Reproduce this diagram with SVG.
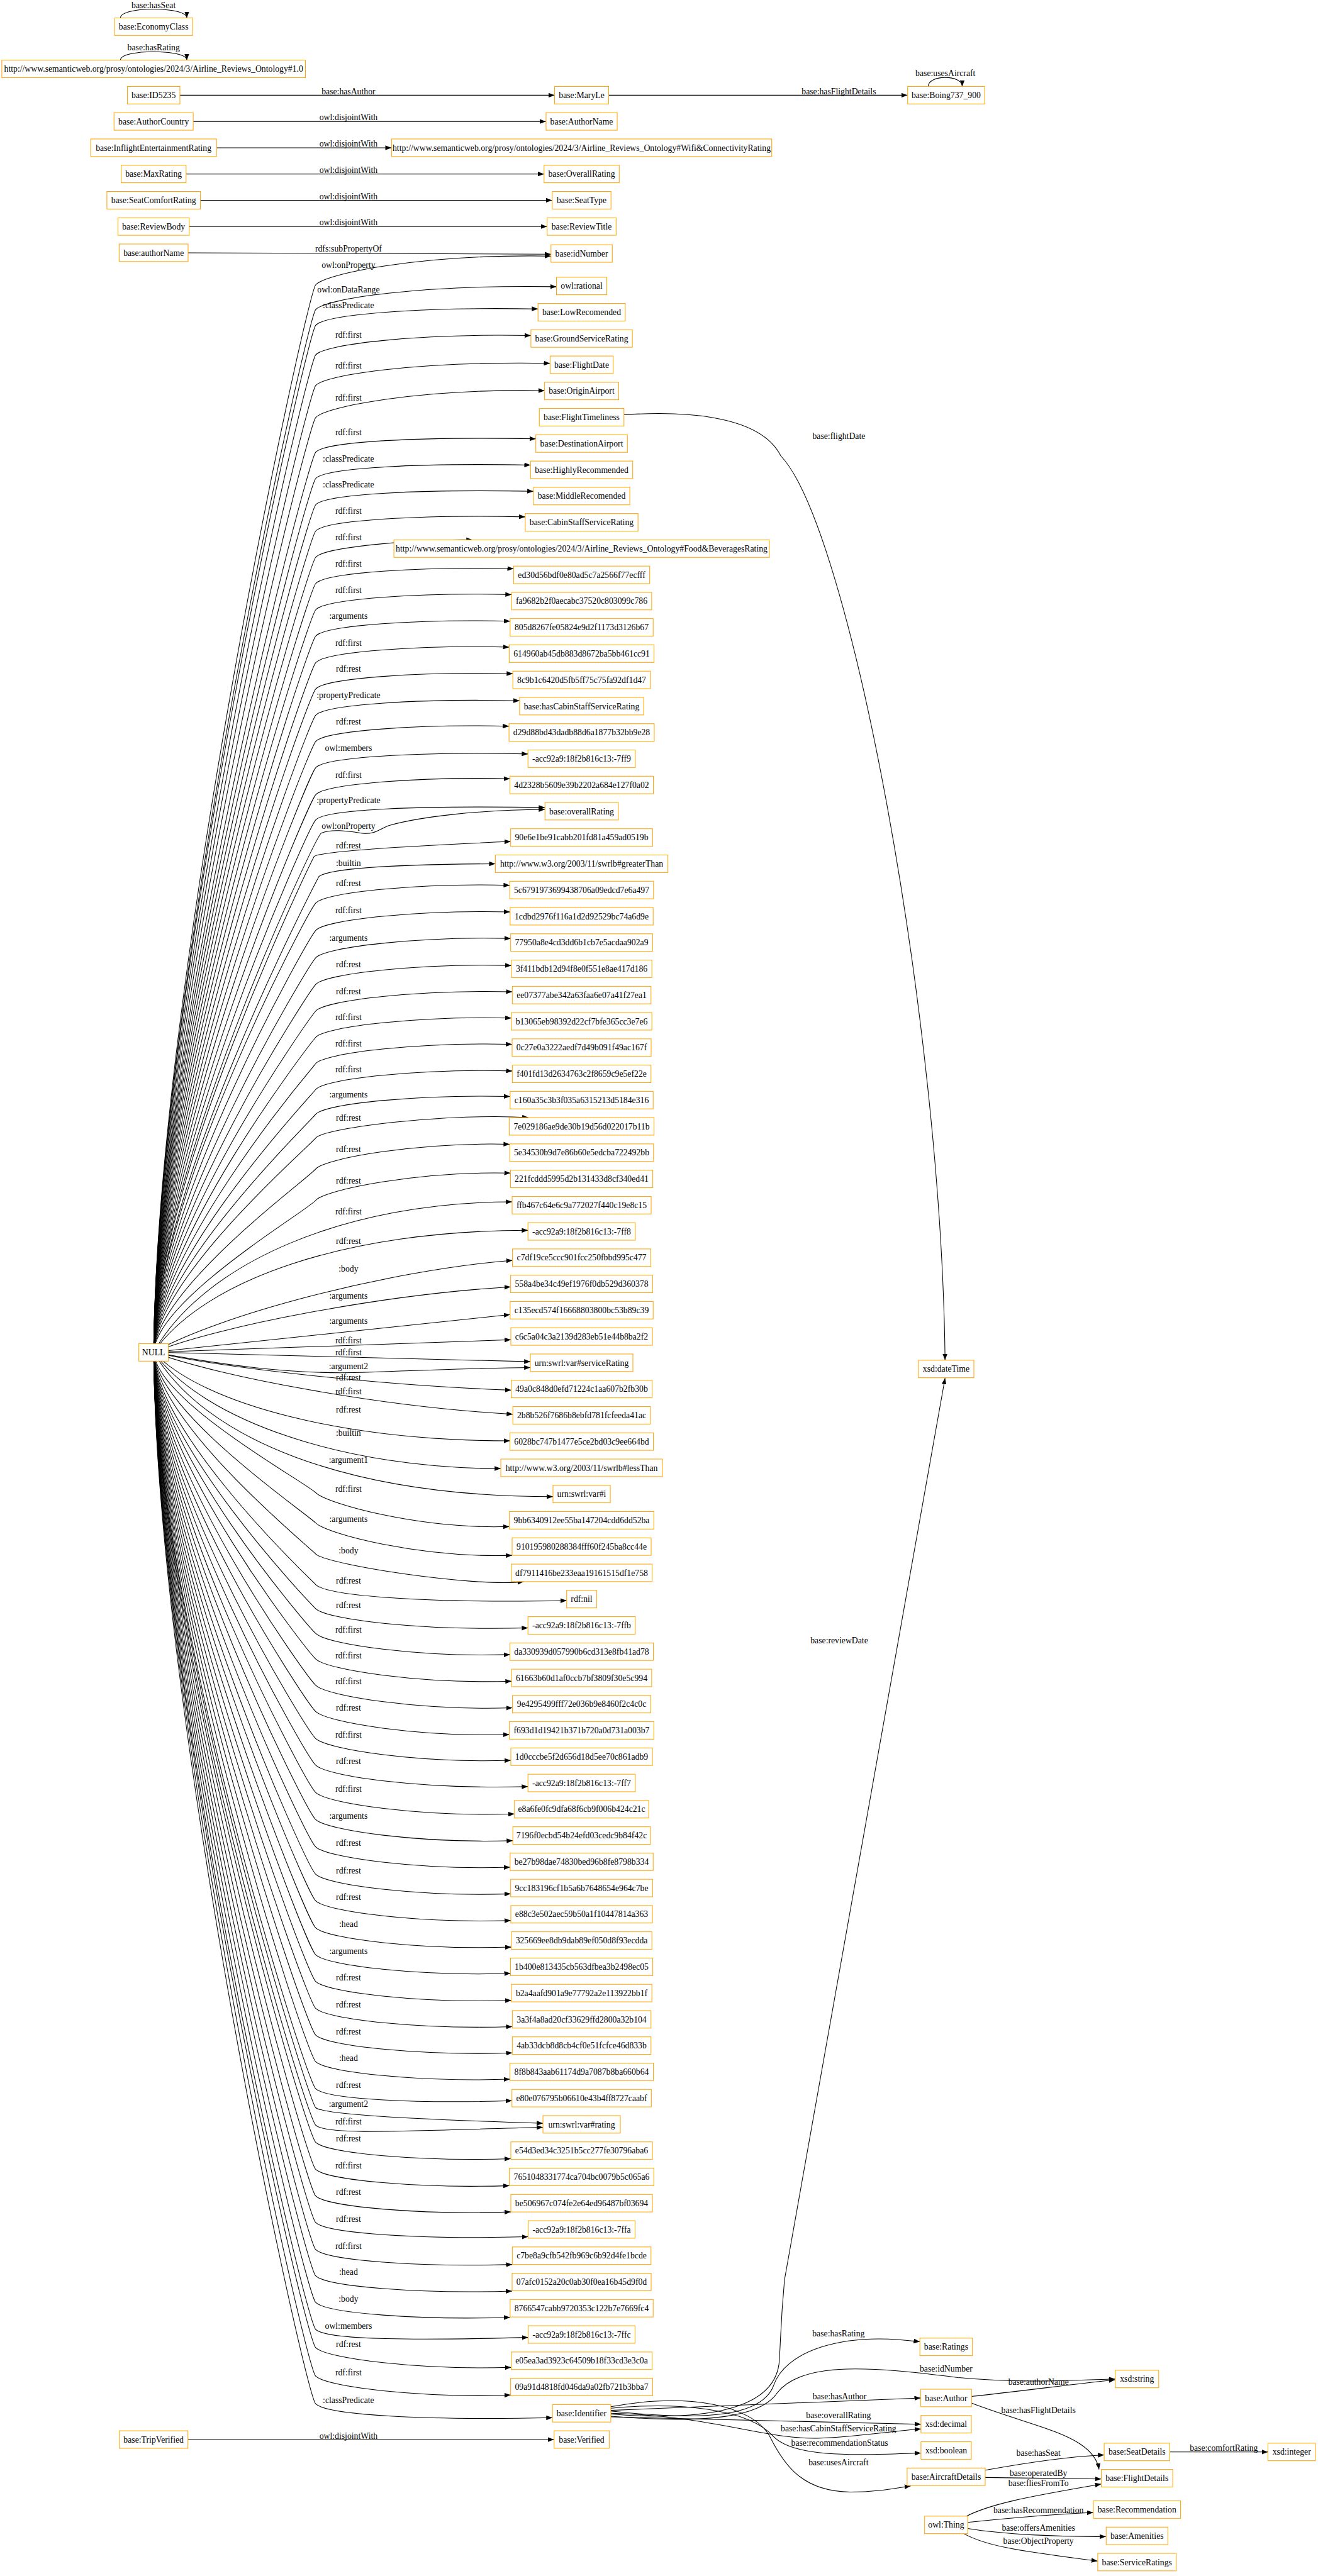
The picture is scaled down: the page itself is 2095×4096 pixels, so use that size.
<svg xmlns="http://www.w3.org/2000/svg" width="2095" height="4096" viewBox="0 0 2095 4096">
<defs>
<style>
.n{fill:#fff;stroke:#FFA500;stroke-width:1.8}
.t,.l{font-family:"Liberation Serif","Times New Roman",serif;font-size:23.7px;text-anchor:middle;fill:#000}
.e{fill:none;stroke:#000;stroke-width:1.8;marker-end:url(#ah)}
</style>
<marker id="ah" markerUnits="userSpaceOnUse" markerWidth="18" markerHeight="13" refX="17" refY="6.5" orient="auto"><path d="M0,0 L17,6.5 L0,13 z" fill="#000"/></marker>
</defs>
<rect width="2095" height="4096" fill="#fff"/>
<g transform="scale(0.58)">
<g id="edges">
<path class="e" d="M330,49 C330,17 512,17 512,49"/>
<path class="e" d="M330,165 C330,134 512,134 512,165"/>
<path class="e" d="M2544,237 C2544,204 2637,204 2637,237"/>
<path class="e" d="M493,261 L1520,261"/>
<path class="e" d="M1668,261 L2487,261"/>
<path class="e" d="M529,333 L1496,333"/>
<path class="e" d="M593,405 L1073,405"/>
<path class="e" d="M510,477 L1491,477"/>
<path class="e" d="M549,549 L1513,549"/>
<path class="e" d="M518,621 L1499,621"/>
<path class="e" d="M515,693 L1510,697"/>
<path class="e" d="M421,3707 C431,2683 840,811 865,781 C890,751 1150,696 1510,702"/>
<path class="e" d="M421,3707 C431,2707 840,879 865,849 C890,819 1150,780 1525,786"/>
<path class="e" d="M421,3707 C431,2722 840,922 865,892 C890,862 1150,841 1474.5,847"/>
<path class="e" d="M421,3707 C431,2750 840,1003 865,973 C890,943 1150,914 1455,920"/>
<path class="e" d="M421,3707 C431,2779 840,1087 865,1057 C890,1027 1150,990 1507.5,996"/>
<path class="e" d="M421,3707 C431,2810 840,1175 865,1145 C890,1115 1150,1065 1492.5,1071"/>
<path class="e" d="M421,3707 C431,2844 840,1270 865,1240 C890,1210 1150,1197 1468.5,1203"/>
<path class="e" d="M421,3707 C431,2869 840,1342 865,1312 C890,1282 1150,1269 1454,1275"/>
<path class="e" d="M421,3707 C431,2894 840,1414 865,1384 C890,1354 1150,1341 1462,1347"/>
<path class="e" d="M421,3707 C431,2919 840,1486 865,1456 C890,1426 1150,1411 1439.5,1417"/>
<path class="e" d="M421,3707 C431,2944 840,1558 865,1528 C890,1498 1150,1478 1295,1480"/>
<path class="e" d="M421,3707 C431,2970 840,1630 865,1600 C890,1570 1150,1553 1407.5,1559"/>
<path class="e" d="M421,3707 C431,2995 840,1702 865,1672 C890,1642 1150,1624 1402,1630"/>
<path class="e" d="M421,3707 C431,3020 840,1774 865,1744 C890,1714 1150,1697 1398,1703"/>
<path class="e" d="M421,3707 C431,3045 840,1847 865,1817 C890,1787 1150,1768 1395.5,1774"/>
<path class="e" d="M421,3707 C431,3071 840,1919 865,1889 C890,1859 1150,1841 1405.5,1847"/>
<path class="e" d="M421,3707 C431,3096 840,1991 865,1961 C890,1931 1150,1915 1424,1921"/>
<path class="e" d="M421,3707 C431,3121 840,2063 865,2033 C890,2003 1150,1985 1395,1991"/>
<path class="e" d="M421,3707 C431,3146 840,2135 865,2105 C890,2075 1150,2061 1447,2067"/>
<path class="e" d="M421,3707 C431,3172 840,2209 865,2179 C890,2149 1150,2129 1397.5,2135"/>
<path class="e" d="M421,3707 C431,3196 840,2278 865,2248 C890,2218 1150,2208 1493.5,2214"/>
<path class="e" d="M421,3707 C431,3209 855,2314 880,2284 C910,2272 950,2278 990,2284 C1030,2290 1045,2268 1070,2262 C1150,2240 1300,2221 1493.5,2219"/>
<path class="e" d="M421,3707 C431,3231 845,2378 861,2348 C880,2335 1100,2320 1399.5,2307"/>
<path class="e" d="M421,3707 C431,3251 858,2433 874,2403 C900,2382 1050,2370 1357.5,2368"/>
<path class="e" d="M421,3707 C431,3276 840,2506 865,2476 C890,2446 1150,2421 1397,2427"/>
<path class="e" d="M421,3707 C431,3302 840,2581 865,2551 C890,2521 1150,2494 1398,2500"/>
<path class="e" d="M421,3707 C431,3329 840,2656 865,2626 C890,2596 1150,2567 1399.5,2573"/>
<path class="e" d="M421,3707 C431,3354 840,2729 865,2699 C890,2669 1150,2641 1401.5,2647"/>
<path class="e" d="M421,3707 C431,3380 840,2802 865,2772 C890,2742 1150,2713 1404,2719"/>
<path class="e" d="M421,3707 C431,3405 840,2874 865,2844 C890,2814 1150,2785 1401.5,2791"/>
<path class="e" d="M421,3707 C431,3430 840,2946 865,2916 C890,2886 1150,2857 1403.5,2863"/>
<path class="e" d="M421,3707 C431,3455 840,3017 865,2987 C890,2957 1150,2930 1404,2936"/>
<path class="e" d="M421,3707 C431,3479 840,3085 865,3055 C890,3025 1150,3000 1398,3006"/>
<path class="e" d="M421,3707 C431,3502 840,3150 865,3120 C890,3090 1250,3050 1448,3064"/>
<path class="e" d="M421,3707 C431,3531 840,3235 865,3205 C890,3175 1150,3131 1397,3137"/>
<path class="e" d="M421,3707 C431,3561 840,3321 865,3291 C890,3261 1150,3210 1399,3216"/>
<path class="e" d="M421,3707 C560,3460 950,3295 1403.5,3295"/>
<path class="e" d="M421,3707 C560,3507 950,3373 1447,3373"/>
<path class="e" d="M421,3707 C600,3606 1050,3485 1404.5,3455"/>
<path class="e" d="M421,3707 C600,3635 1050,3549 1399.5,3528"/>
<path class="e" d="M421,3707 L1398,3604"/>
<path class="e" d="M421,3707 L1400,3673"/>
<path class="e" d="M421,3707 L1453.5,3733"/>
<path class="e" d="M421,3707 C600,3740 800,3770 1005,3762 C1200,3755 1350,3750 1453.5,3749"/>
<path class="e" d="M421,3707 C600,3749 1050,3799 1401,3811"/>
<path class="e" d="M421,3707 C600,3775 1050,3857 1405.5,3877"/>
<path class="e" d="M421,3707 C560,3853 950,3950 1397.5,3950"/>
<path class="e" d="M421,3707 C560,3898 950,4026 1372.5,4026"/>
<path class="e" d="M421,3707 C560,3945 950,4103 1515.5,4103"/>
<path class="e" d="M421,3707 C431,3842 835,4062 865,4092 C895,4122 1150,4193 1396,4185"/>
<path class="e" d="M421,3707 C431,3871 835,4145 865,4175 C895,4205 1150,4272 1403.5,4264"/>
<path class="e" d="M421,3707 C431,3900 835,4230 865,4260 C895,4290 1300,4352 1435,4336"/>
<path class="e" d="M421,3707 C431,3930 835,4314 865,4344 C895,4374 1150,4396 1553,4388"/>
<path class="e" d="M421,3707 C431,3953 835,4380 865,4410 C895,4440 1150,4471 1447,4463"/>
<path class="e" d="M421,3707 C431,3977 835,4448 865,4478 C895,4508 1150,4544 1397.5,4536"/>
<path class="e" d="M421,3707 C431,4001 835,4518 865,4548 C895,4578 1150,4617 1402,4609"/>
<path class="e" d="M421,3707 C431,4027 835,4590 865,4620 C895,4650 1150,4690 1404.5,4682"/>
<path class="e" d="M421,3707 C431,4052 835,4662 865,4692 C895,4722 1150,4763 1396,4755"/>
<path class="e" d="M421,3707 C431,4078 835,4736 865,4766 C895,4796 1150,4834 1400,4826"/>
<path class="e" d="M421,3707 C431,4103 835,4809 865,4839 C895,4869 1150,4906 1447,4898"/>
<path class="e" d="M421,3707 C431,4129 835,4884 865,4914 C895,4944 1150,4981 1410,4973"/>
<path class="e" d="M421,3707 C431,4155 835,4958 865,4988 C895,5018 1150,5054 1405.5,5046"/>
<path class="e" d="M421,3707 C431,4182 835,5033 865,5063 C895,5093 1150,5127 1398,5119"/>
<path class="e" d="M421,3707 C431,4208 835,5108 865,5138 C895,5168 1150,5200 1399.5,5192"/>
<path class="e" d="M421,3707 C431,4233 835,5181 865,5211 C895,5241 1150,5273 1400,5265"/>
<path class="e" d="M421,3707 C431,4259 835,5255 865,5285 C895,5315 1150,5346 1401.5,5338"/>
<path class="e" d="M421,3707 C431,4285 835,5329 865,5359 C895,5389 1150,5418 1399,5410"/>
<path class="e" d="M421,3707 C431,4311 835,5402 865,5432 C895,5462 1150,5492 1401.5,5484"/>
<path class="e" d="M421,3707 C431,4337 835,5476 865,5506 C895,5536 1150,5564 1404,5556"/>
<path class="e" d="M421,3707 C431,4362 835,5549 865,5579 C895,5609 1150,5636 1404,5628"/>
<path class="e" d="M421,3707 C431,4388 835,5622 865,5652 C895,5682 1150,5708 1397.5,5700"/>
<path class="e" d="M421,3707 C431,4414 835,5696 865,5726 C895,5756 1150,5767 1403,5759"/>
<path class="e" d="M421,3707 C431,4432 840,5748 865,5778 C890,5800 1200,5812 1488,5821"/>
<path class="e" d="M421,3707 C431,4449 835,5796 865,5826 C895,5856 1150,5840 1488,5832"/>
<path class="e" d="M421,3707 C431,4465 835,5843 865,5873 C895,5903 1150,5926 1400,5918"/>
<path class="e" d="M421,3707 C431,4491 835,5917 865,5947 C895,5977 1150,6000 1396,5992"/>
<path class="e" d="M421,3707 C431,4517 835,5990 865,6020 C895,6050 1150,6072 1400,6064"/>
<path class="e" d="M421,3707 C431,4542 835,6063 865,6093 C895,6123 1150,6140 1447.5,6132"/>
<path class="e" d="M421,3707 C431,4568 835,6137 865,6167 C895,6197 1150,6216 1404,6208"/>
<path class="e" d="M421,3707 C431,4593 835,6209 865,6239 C895,6269 1150,6289 1403.5,6281"/>
<path class="e" d="M421,3707 C431,4619 835,6282 865,6312 C895,6342 1150,6361 1398,6353"/>
<path class="e" d="M421,3707 C431,4645 835,6356 865,6386 C895,6416 1150,6416 1447.5,6408"/>
<path class="e" d="M421,3707 C431,4662 835,6406 865,6436 C895,6466 1150,6498 1401,6490"/>
<path class="e" d="M421,3707 C431,4689 835,6484 865,6514 C895,6544 1150,6574 1399.5,6566"/>
<path class="e" d="M421,3707 C431,4716 835,6560 865,6590 C895,6620 1150,6636 1514,6628"/>
<path class="e" d="M515,6688 L1518,6688"/>
<path class="e" d="M1710,1137 C1850,1128 2080,1130 2140,1250 C2330,1450 2580,2800 2590,3729"/>
<path class="e" d="M1674,6618 C1950,6640 2120,6600 2135,6480 C2140,6420 2138,6380 2150,6250 L2590,3778"/>
<path class="e" d="M1674,6610 C1950,6640 2090,6620 2120,6540 C2150,6450 2300,6390 2521,6420"/>
<path class="e" d="M1674,6624 C1960,6648 2090,6620 2130,6560 C2200,6470 2400,6490 2625,6518 C2800,6535 2950,6525 3056,6522"/>
<path class="e" d="M1674,6608 L2523,6574"/>
<path class="e" d="M1674,6626 L2524,6646"/>
<path class="e" d="M1674,6616 C1950,6622 2100,6690 2250,6684 C2350,6680 2450,6664 2524,6659"/>
<path class="e" d="M1674,6602 C1850,6585 2050,6600 2120,6680 C2180,6740 2350,6730 2524,6725"/>
<path class="e" d="M1674,6598 C1880,6560 2060,6590 2110,6680 C2150,6760 2200,6830 2330,6832 C2400,6832 2450,6822 2496,6815"/>
<path class="e" d="M2662,6570 C2800,6555 2950,6535 3056,6524"/>
<path class="e" d="M2662,6588 C2800,6640 2900,6660 2960,6700 C2990,6720 3008,6745 3012,6770"/>
<path class="e" d="M2700,6772 C2820,6750 2920,6735 3026,6730"/>
<path class="e" d="M2700,6792 L3018,6796"/>
<path class="e" d="M2645,6900 C2720,6860 2850,6840 3018,6810"/>
<path class="e" d="M2652,6915 C2800,6900 2900,6892 2996,6888"/>
<path class="e" d="M2652,6932 C2750,6948 2900,6955 3031,6954"/>
<path class="e" d="M2640,6945 C2700,6980 2800,6995 3008,7021"/>
<path class="e" d="M3206,6722 L3475,6722"/>
</g>
<g id="edge-labels">
<text class="l" x="421" y="22">base:hasSeat</text>
<text class="l" x="421" y="138">base:hasRating</text>
<text class="l" x="2591" y="209">base:usesAircraft</text>
<text class="l" x="955" y="258">base:hasAuthor</text>
<text class="l" x="2299" y="258">base:hasFlightDetails</text>
<text class="l" x="955" y="330">owl:disjointWith</text>
<text class="l" x="955" y="402">owl:disjointWith</text>
<text class="l" x="955" y="474">owl:disjointWith</text>
<text class="l" x="955" y="546">owl:disjointWith</text>
<text class="l" x="955" y="618">owl:disjointWith</text>
<text class="l" x="955" y="690">rdfs:subPropertyOf</text>
<text class="l" x="955" y="734">owl:onProperty</text>
<text class="l" x="955" y="802">owl:onDataRange</text>
<text class="l" x="955" y="845">:classPredicate</text>
<text class="l" x="955" y="926">rdf:first</text>
<text class="l" x="955" y="1010">rdf:first</text>
<text class="l" x="955" y="1098">rdf:first</text>
<text class="l" x="955" y="1193">rdf:first</text>
<text class="l" x="955" y="1265">:classPredicate</text>
<text class="l" x="955" y="1337">:classPredicate</text>
<text class="l" x="955" y="1409">rdf:first</text>
<text class="l" x="955" y="1481">rdf:first</text>
<text class="l" x="955" y="1553">rdf:first</text>
<text class="l" x="955" y="1625">rdf:first</text>
<text class="l" x="955" y="1697">:arguments</text>
<text class="l" x="955" y="1770">rdf:first</text>
<text class="l" x="955" y="1842">rdf:rest</text>
<text class="l" x="955" y="1914">:propertyPredicate</text>
<text class="l" x="955" y="1986">rdf:rest</text>
<text class="l" x="955" y="2058">owl:members</text>
<text class="l" x="955" y="2132">rdf:first</text>
<text class="l" x="955" y="2201">:propertyPredicate</text>
<text class="l" x="955" y="2273">owl:onProperty</text>
<text class="l" x="955" y="2325">rdf:rest</text>
<text class="l" x="955" y="2374">:builtin</text>
<text class="l" x="955" y="2429">rdf:rest</text>
<text class="l" x="955" y="2504">rdf:first</text>
<text class="l" x="955" y="2579">:arguments</text>
<text class="l" x="955" y="2652">rdf:rest</text>
<text class="l" x="955" y="2725">rdf:rest</text>
<text class="l" x="955" y="2797">rdf:first</text>
<text class="l" x="955" y="2869">rdf:first</text>
<text class="l" x="955" y="2940">rdf:first</text>
<text class="l" x="955" y="3008">:arguments</text>
<text class="l" x="955" y="3073">rdf:rest</text>
<text class="l" x="955" y="3158">rdf:rest</text>
<text class="l" x="955" y="3244">rdf:rest</text>
<text class="l" x="955" y="3329">rdf:first</text>
<text class="l" x="955" y="3410">rdf:rest</text>
<text class="l" x="955" y="3486">:body</text>
<text class="l" x="955" y="3561">:arguments</text>
<text class="l" x="955" y="3629">:arguments</text>
<text class="l" x="955" y="3682">rdf:first</text>
<text class="l" x="955" y="3716">rdf:first</text>
<text class="l" x="955" y="3754">:argument2</text>
<text class="l" x="955" y="3784">rdf:rest</text>
<text class="l" x="955" y="3822">rdf:first</text>
<text class="l" x="955" y="3873">rdf:rest</text>
<text class="l" x="955" y="3936">:builtin</text>
<text class="l" x="955" y="4010">:argument1</text>
<text class="l" x="955" y="4090">rdf:first</text>
<text class="l" x="955" y="4173">:arguments</text>
<text class="l" x="955" y="4258">:body</text>
<text class="l" x="955" y="4342">rdf:rest</text>
<text class="l" x="955" y="4408">rdf:rest</text>
<text class="l" x="955" y="4476">rdf:first</text>
<text class="l" x="955" y="4546">rdf:first</text>
<text class="l" x="955" y="4618">rdf:first</text>
<text class="l" x="955" y="4690">rdf:rest</text>
<text class="l" x="955" y="4764">rdf:first</text>
<text class="l" x="955" y="4837">rdf:rest</text>
<text class="l" x="955" y="4912">rdf:first</text>
<text class="l" x="955" y="4986">:arguments</text>
<text class="l" x="955" y="5061">rdf:rest</text>
<text class="l" x="955" y="5136">rdf:rest</text>
<text class="l" x="955" y="5209">rdf:rest</text>
<text class="l" x="955" y="5283">:head</text>
<text class="l" x="955" y="5357">:arguments</text>
<text class="l" x="955" y="5430">rdf:rest</text>
<text class="l" x="955" y="5504">rdf:rest</text>
<text class="l" x="955" y="5577">rdf:rest</text>
<text class="l" x="955" y="5650">:head</text>
<text class="l" x="955" y="5724">rdf:rest</text>
<text class="l" x="955" y="5776">:argument2</text>
<text class="l" x="955" y="5824">rdf:first</text>
<text class="l" x="955" y="5871">rdf:rest</text>
<text class="l" x="955" y="5945">rdf:first</text>
<text class="l" x="955" y="6018">rdf:rest</text>
<text class="l" x="955" y="6091">rdf:rest</text>
<text class="l" x="955" y="6165">rdf:first</text>
<text class="l" x="955" y="6237">:head</text>
<text class="l" x="955" y="6310">:body</text>
<text class="l" x="955" y="6384">owl:members</text>
<text class="l" x="955" y="6434">rdf:rest</text>
<text class="l" x="955" y="6512">rdf:first</text>
<text class="l" x="955" y="6588">:classPredicate</text>
<text class="l" x="955" y="6686">owl:disjointWith</text>
<text class="l" x="2299" y="1204">base:flightDate</text>
<text class="l" x="2300" y="4505">base:reviewDate</text>
<text class="l" x="2298" y="6405">base:hasRating</text>
<text class="l" x="2593" y="6501">base:idNumber</text>
<text class="l" x="2301" y="6577">base:hasAuthor</text>
<text class="l" x="2298" y="6630">base:overallRating</text>
<text class="l" x="2298" y="6665">base:hasCabinStaffServiceRating</text>
<text class="l" x="2301" y="6706">base:recommendationStatus</text>
<text class="l" x="2298" y="6758">base:usesAircraft</text>
<text class="l" x="2846" y="6538">base:authorName</text>
<text class="l" x="2846" y="6615">base:hasFlightDetails</text>
<text class="l" x="2846" y="6733">base:hasSeat</text>
<text class="l" x="2846" y="6788">base:operatedBy</text>
<text class="l" x="2846" y="6816">base:fliesFromTo</text>
<text class="l" x="2846" y="6890">base:hasRecommendation</text>
<text class="l" x="2846" y="6938">base:offersAmenities</text>
<text class="l" x="2846" y="6974">base:ObjectProperty</text>
<text class="l" x="3354" y="6719">base:comfortRating</text>
</g>
<g id="nodes">
<g id="n_EconomyClass"><rect class="n" x="314" y="49" width="214" height="48"/><text class="t" x="421" y="81">base:EconomyClass</text></g>
<g id="n_Ontology10"><rect class="n" x="5" y="165" width="832" height="48"/><text class="t" x="421" y="197">http://www.semanticweb.org/prosy/ontologies/2024/3/Airline_Reviews_Ontology#1.0</text></g>
<g id="n_ID5235"><rect class="n" x="349" y="237" width="144" height="48"/><text class="t" x="421" y="269">base:ID5235</text></g>
<g id="n_AuthorCountry"><rect class="n" x="312.5" y="309" width="217" height="48"/><text class="t" x="421" y="341">base:AuthorCountry</text></g>
<g id="n_InflightEntertainmentRating"><rect class="n" x="248.5" y="381" width="345" height="48"/><text class="t" x="421" y="413">base:InflightEntertainmentRating</text></g>
<g id="n_MaxRating"><rect class="n" x="332" y="453" width="178" height="48"/><text class="t" x="421" y="485">base:MaxRating</text></g>
<g id="n_SeatComfortRating"><rect class="n" x="293" y="525" width="256" height="48"/><text class="t" x="421" y="557">base:SeatComfortRating</text></g>
<g id="n_ReviewBody"><rect class="n" x="323.5" y="597" width="195" height="48"/><text class="t" x="421" y="629">base:ReviewBody</text></g>
<g id="n_authorName"><rect class="n" x="326.5" y="669" width="189" height="48"/><text class="t" x="421" y="701">base:authorName</text></g>
<g id="n_NULL"><rect class="n" x="380.5" y="3683.5" width="81" height="48"/><text class="t" x="421" y="3715.5">NULL</text></g>
<g id="n_TripVerified"><rect class="n" x="327" y="6664" width="188" height="48"/><text class="t" x="421" y="6696">base:TripVerified</text></g>
<g id="n_MaryLe"><rect class="n" x="1520" y="237" width="148" height="48"/><text class="t" x="1594" y="269">base:MaryLe</text></g>
<g id="n_Boing737_900"><rect class="n" x="2487.5" y="237" width="211" height="48"/><text class="t" x="2593" y="269">base:Boing737_900</text></g>
<g id="n_AuthorName"><rect class="n" x="1496.5" y="309" width="195" height="48"/><text class="t" x="1594" y="341">base:AuthorName</text></g>
<g id="n_WifiRating"><rect class="n" x="1073" y="381" width="1042" height="48"/><text class="t" x="1594" y="413">http://www.semanticweb.org/prosy/ontologies/2024/3/Airline_Reviews_Ontology#Wifi&amp;ConnectivityRating</text></g>
<g id="n_OverallRating"><rect class="n" x="1491" y="453" width="206" height="48"/><text class="t" x="1594" y="485">base:OverallRating</text></g>
<g id="n_SeatType"><rect class="n" x="1513.5" y="525" width="161" height="48"/><text class="t" x="1594" y="557">base:SeatType</text></g>
<g id="n_ReviewTitle"><rect class="n" x="1499.5" y="597" width="189" height="48"/><text class="t" x="1594" y="629">base:ReviewTitle</text></g>
<g id="n_idNumber"><rect class="n" x="1510" y="671" width="168" height="48"/><text class="t" x="1594" y="703">base:idNumber</text></g>
<g id="n_rational"><rect class="n" x="1525" y="760" width="138" height="48"/><text class="t" x="1594" y="792">owl:rational</text></g>
<g id="n_LowRecomended"><rect class="n" x="1474.5" y="832" width="239" height="48"/><text class="t" x="1594" y="864">base:LowRecomended</text></g>
<g id="n_GroundServiceRating"><rect class="n" x="1455" y="904" width="278" height="48"/><text class="t" x="1594" y="936">base:GroundServiceRating</text></g>
<g id="n_FlightDate"><rect class="n" x="1507.5" y="976" width="173" height="48"/><text class="t" x="1594" y="1008">base:FlightDate</text></g>
<g id="n_OriginAirport"><rect class="n" x="1492.5" y="1048" width="203" height="48"/><text class="t" x="1594" y="1080">base:OriginAirport</text></g>
<g id="n_FlightTimeliness"><rect class="n" x="1478" y="1120" width="232" height="48"/><text class="t" x="1594" y="1152">base:FlightTimeliness</text></g>
<g id="n_DestinationAirport"><rect class="n" x="1468.5" y="1192" width="251" height="48"/><text class="t" x="1594" y="1224">base:DestinationAirport</text></g>
<g id="n_HighlyRecommended"><rect class="n" x="1454" y="1264" width="280" height="48"/><text class="t" x="1594" y="1296">base:HighlyRecommended</text></g>
<g id="n_MiddleRecomended"><rect class="n" x="1462" y="1336" width="264" height="48"/><text class="t" x="1594" y="1368">base:MiddleRecomended</text></g>
<g id="n_CabinStaffServiceRating"><rect class="n" x="1439.5" y="1408" width="309" height="48"/><text class="t" x="1594" y="1440">base:CabinStaffServiceRating</text></g>
<g id="n_FoodRating"><rect class="n" x="1079.5" y="1480" width="1029" height="48"/><text class="t" x="1594" y="1512">http://www.semanticweb.org/prosy/ontologies/2024/3/Airline_Reviews_Ontology#Food&amp;BeveragesRating</text></g>
<g id="n_ed30"><rect class="n" x="1407.5" y="1552" width="373" height="48"/><text class="t" x="1594" y="1584">ed30d56bdf0e80ad5c7a2566f77ecfff</text></g>
<g id="n_fa96"><rect class="n" x="1402" y="1624" width="384" height="48"/><text class="t" x="1594" y="1656">fa9682b2f0aecabc37520c803099c786</text></g>
<g id="n_805d"><rect class="n" x="1398" y="1696" width="392" height="48"/><text class="t" x="1594" y="1728">805d8267fe05824e9d2f1173d3126b67</text></g>
<g id="n_6149"><rect class="n" x="1395.5" y="1768" width="397" height="48"/><text class="t" x="1594" y="1800">614960ab45db883d8672ba5bb461cc91</text></g>
<g id="n_8c9b"><rect class="n" x="1405.5" y="1840" width="377" height="48"/><text class="t" x="1594" y="1872">8c9b1c6420d5fb5ff75c75fa92df1d47</text></g>
<g id="n_hasCabinStaffServiceRating"><rect class="n" x="1424" y="1912" width="340" height="48"/><text class="t" x="1594" y="1944">base:hasCabinStaffServiceRating</text></g>
<g id="n_d29d"><rect class="n" x="1395" y="1984" width="398" height="48"/><text class="t" x="1594" y="2016">d29d88bd43dadb88d6a1877b32bb9e28</text></g>
<g id="n_7ff9"><rect class="n" x="1447" y="2056" width="294" height="48"/><text class="t" x="1594" y="2088">-acc92a9:18f2b816c13:-7ff9</text></g>
<g id="n_4d23"><rect class="n" x="1397.5" y="2128" width="393" height="48"/><text class="t" x="1594" y="2160">4d2328b5609e39b2202a684e127f0a02</text></g>
<g id="n_overallRating"><rect class="n" x="1493.5" y="2200" width="201" height="48"/><text class="t" x="1594" y="2232">base:overallRating</text></g>
<g id="n_90e6"><rect class="n" x="1399.5" y="2272" width="389" height="48"/><text class="t" x="1594" y="2304">90e6e1be91cabb201fd81a459ad0519b</text></g>
<g id="n_greaterThan"><rect class="n" x="1357.5" y="2344" width="473" height="48"/><text class="t" x="1594" y="2376">http://www.w3.org/2003/11/swrlb#greaterThan</text></g>
<g id="n_5c67"><rect class="n" x="1397" y="2416" width="394" height="48"/><text class="t" x="1594" y="2448">5c6791973699438706a09edcd7e6a497</text></g>
<g id="n_1cdb"><rect class="n" x="1398" y="2488" width="392" height="48"/><text class="t" x="1594" y="2520">1cdbd2976f116a1d2d92529bc74a6d9e</text></g>
<g id="n_7795"><rect class="n" x="1399.5" y="2560" width="389" height="48"/><text class="t" x="1594" y="2592">77950a8e4cd3dd6b1cb7e5acdaa902a9</text></g>
<g id="n_3f41"><rect class="n" x="1401.5" y="2632" width="385" height="48"/><text class="t" x="1594" y="2664">3f411bdb12d94f8e0f551e8ae417d186</text></g>
<g id="n_ee07"><rect class="n" x="1404" y="2704" width="380" height="48"/><text class="t" x="1594" y="2736">ee07377abe342a63faa6e07a41f27ea1</text></g>
<g id="n_b130"><rect class="n" x="1401.5" y="2776" width="385" height="48"/><text class="t" x="1594" y="2808">b13065eb98392d22cf7bfe365cc3e7e6</text></g>
<g id="n_0c27"><rect class="n" x="1403.5" y="2848" width="381" height="48"/><text class="t" x="1594" y="2880">0c27e0a3222aedf7d49b091f49ac167f</text></g>
<g id="n_f401"><rect class="n" x="1404" y="2920" width="380" height="48"/><text class="t" x="1594" y="2952">f401fd13d2634763c2f8659c9e5ef22e</text></g>
<g id="n_c160"><rect class="n" x="1398" y="2992" width="392" height="48"/><text class="t" x="1594" y="3024">c160a35c3b3f035a6315213d5184e316</text></g>
<g id="n_7e02"><rect class="n" x="1395.5" y="3064" width="397" height="48"/><text class="t" x="1594" y="3096">7e029186ae9de30b19d56d022017b11b</text></g>
<g id="n_5e34"><rect class="n" x="1397" y="3136" width="394" height="48"/><text class="t" x="1594" y="3168">5e34530b9d7e86b60e5edcba722492bb</text></g>
<g id="n_221f"><rect class="n" x="1399" y="3208" width="390" height="48"/><text class="t" x="1594" y="3240">221fcddd5995d2b131433d8cf340ed41</text></g>
<g id="n_ffb4"><rect class="n" x="1403.5" y="3280" width="381" height="48"/><text class="t" x="1594" y="3312">ffb467c64e6c9a772027f440c19e8c15</text></g>
<g id="n_7ff8"><rect class="n" x="1447" y="3352" width="294" height="48"/><text class="t" x="1594" y="3384">-acc92a9:18f2b816c13:-7ff8</text></g>
<g id="n_c7df"><rect class="n" x="1404.5" y="3424" width="379" height="48"/><text class="t" x="1594" y="3456">c7df19ce5ccc901fcc250fbbd995c477</text></g>
<g id="n_558a"><rect class="n" x="1399.5" y="3496" width="389" height="48"/><text class="t" x="1594" y="3528">558a4be34c49ef1976f0db529d360378</text></g>
<g id="n_c135"><rect class="n" x="1398" y="3568" width="392" height="48"/><text class="t" x="1594" y="3600">c135ecd574f16668803800bc53b89c39</text></g>
<g id="n_c6c5"><rect class="n" x="1400" y="3640" width="388" height="48"/><text class="t" x="1594" y="3672">c6c5a04c3a2139d283eb51e44b8ba2f2</text></g>
<g id="n_serviceRating"><rect class="n" x="1453.5" y="3712" width="281" height="48"/><text class="t" x="1594" y="3744">urn:swrl:var#serviceRating</text></g>
<g id="n_49a0"><rect class="n" x="1401" y="3784" width="386" height="48"/><text class="t" x="1594" y="3816">49a0c848d0efd71224c1aa607b2fb30b</text></g>
<g id="n_2b8b"><rect class="n" x="1405.5" y="3856" width="377" height="48"/><text class="t" x="1594" y="3888">2b8b526f7686b8ebfd781fcfeeda41ac</text></g>
<g id="n_6028"><rect class="n" x="1397.5" y="3928" width="393" height="48"/><text class="t" x="1594" y="3960">6028bc747b1477e5ce2bd03c9ee664bd</text></g>
<g id="n_lessThan"><rect class="n" x="1372.5" y="4000" width="443" height="48"/><text class="t" x="1594" y="4032">http://www.w3.org/2003/11/swrlb#lessThan</text></g>
<g id="n_vari"><rect class="n" x="1515.5" y="4072" width="157" height="48"/><text class="t" x="1594" y="4104">urn:swrl:var#i</text></g>
<g id="n_9bb6"><rect class="n" x="1396" y="4144" width="396" height="48"/><text class="t" x="1594" y="4176">9bb6340912ee55ba147204cdd6dd52ba</text></g>
<g id="n_9101"><rect class="n" x="1403.5" y="4216" width="381" height="48"/><text class="t" x="1594" y="4248">910195980288384fff60f245ba8cc44e</text></g>
<g id="n_df79"><rect class="n" x="1401" y="4288" width="386" height="48"/><text class="t" x="1594" y="4320">df7911416be233eaa19161515df1e758</text></g>
<g id="n_rdfnil"><rect class="n" x="1553" y="4360" width="82" height="48"/><text class="t" x="1594" y="4392">rdf:nil</text></g>
<g id="n_7ffb"><rect class="n" x="1447" y="4432" width="294" height="48"/><text class="t" x="1594" y="4464">-acc92a9:18f2b816c13:-7ffb</text></g>
<g id="n_da33"><rect class="n" x="1397.5" y="4504" width="393" height="48"/><text class="t" x="1594" y="4536">da330939d057990b6cd313e8fb41ad78</text></g>
<g id="n_6166"><rect class="n" x="1402" y="4576" width="384" height="48"/><text class="t" x="1594" y="4608">61663b60d1af0ccb7bf3809f30e5c994</text></g>
<g id="n_9e42"><rect class="n" x="1404.5" y="4648" width="379" height="48"/><text class="t" x="1594" y="4680">9e4295499fff72e036b9e8460f2c4c0c</text></g>
<g id="n_f693"><rect class="n" x="1396" y="4720" width="396" height="48"/><text class="t" x="1594" y="4752">f693d1d19421b371b720a0d731a003b7</text></g>
<g id="n_1d0c"><rect class="n" x="1400" y="4792" width="388" height="48"/><text class="t" x="1594" y="4824">1d0cccbe5f2d656d18d5ee70c861adb9</text></g>
<g id="n_7ff7"><rect class="n" x="1447" y="4864" width="294" height="48"/><text class="t" x="1594" y="4896">-acc92a9:18f2b816c13:-7ff7</text></g>
<g id="n_e8a6"><rect class="n" x="1410" y="4936" width="368" height="48"/><text class="t" x="1594" y="4968">e8a6fe0fc9dfa68f6cb9f006b424c21c</text></g>
<g id="n_7196"><rect class="n" x="1405.5" y="5008" width="377" height="48"/><text class="t" x="1594" y="5040">7196f0ecbd54b24efd03cedc9b84f42c</text></g>
<g id="n_be27"><rect class="n" x="1398" y="5080" width="392" height="48"/><text class="t" x="1594" y="5112">be27b98dae74830bed96b8fe8798b334</text></g>
<g id="n_9cc1"><rect class="n" x="1399.5" y="5152" width="389" height="48"/><text class="t" x="1594" y="5184">9cc183196cf1b5a6b7648654e964c7be</text></g>
<g id="n_e88c"><rect class="n" x="1400" y="5224" width="388" height="48"/><text class="t" x="1594" y="5256">e88c3e502aec59b50a1f10447814a363</text></g>
<g id="n_3256"><rect class="n" x="1401.5" y="5296" width="385" height="48"/><text class="t" x="1594" y="5328">325669ee8db9dab89ef050d8f93ecdda</text></g>
<g id="n_1b40"><rect class="n" x="1399" y="5368" width="390" height="48"/><text class="t" x="1594" y="5400">1b400e813435cb563dfbea3b2498ec05</text></g>
<g id="n_b2a4"><rect class="n" x="1401.5" y="5440" width="385" height="48"/><text class="t" x="1594" y="5472">b2a4aafd901a9e77792a2e113922bb1f</text></g>
<g id="n_3a3f"><rect class="n" x="1404" y="5512" width="380" height="48"/><text class="t" x="1594" y="5544">3a3f4a8ad20cf33629ffd2800a32b104</text></g>
<g id="n_4ab3"><rect class="n" x="1404" y="5584" width="380" height="48"/><text class="t" x="1594" y="5616">4ab33dcb8d8cb4cf0e51fcfce46d833b</text></g>
<g id="n_8f8b"><rect class="n" x="1397.5" y="5656" width="393" height="48"/><text class="t" x="1594" y="5688">8f8b843aab61174d9a7087b8ba660b64</text></g>
<g id="n_e80e"><rect class="n" x="1403" y="5728" width="382" height="48"/><text class="t" x="1594" y="5760">e80e076795b06610e43b4ff8727caabf</text></g>
<g id="n_varrating"><rect class="n" x="1488" y="5800" width="212" height="48"/><text class="t" x="1594" y="5832">urn:swrl:var#rating</text></g>
<g id="n_e54d"><rect class="n" x="1400" y="5872" width="388" height="48"/><text class="t" x="1594" y="5904">e54d3ed34c3251b5cc277fe30796aba6</text></g>
<g id="n_7651"><rect class="n" x="1396" y="5944" width="396" height="48"/><text class="t" x="1594" y="5976">7651048331774ca704bc0079b5c065a6</text></g>
<g id="n_be50"><rect class="n" x="1400" y="6016" width="388" height="48"/><text class="t" x="1594" y="6048">be506967c074fe2e64ed96487bf03694</text></g>
<g id="n_7ffa"><rect class="n" x="1447.5" y="6088" width="293" height="48"/><text class="t" x="1594" y="6120">-acc92a9:18f2b816c13:-7ffa</text></g>
<g id="n_c7be"><rect class="n" x="1404" y="6160" width="380" height="48"/><text class="t" x="1594" y="6192">c7be8a9cfb542fb969c6b92d4fe1bcde</text></g>
<g id="n_07af"><rect class="n" x="1403.5" y="6232" width="381" height="48"/><text class="t" x="1594" y="6264">07afc0152a20c0ab30f0ea16b45d9f0d</text></g>
<g id="n_8766"><rect class="n" x="1398" y="6304" width="392" height="48"/><text class="t" x="1594" y="6336">8766547cabb9720353c122b7e7669fc4</text></g>
<g id="n_7ffc"><rect class="n" x="1447.5" y="6376" width="293" height="48"/><text class="t" x="1594" y="6408">-acc92a9:18f2b816c13:-7ffc</text></g>
<g id="n_e05e"><rect class="n" x="1401" y="6448" width="386" height="48"/><text class="t" x="1594" y="6480">e05ea3ad3923c64509b18f33cd3e3c0a</text></g>
<g id="n_09a9"><rect class="n" x="1399.5" y="6520" width="389" height="48"/><text class="t" x="1594" y="6552">09a91d4818fd046da9a02fb721b3bba7</text></g>
<g id="n_Identifier"><rect class="n" x="1514" y="6592" width="160" height="48"/><text class="t" x="1594" y="6624">base:Identifier</text></g>
<g id="n_Verified"><rect class="n" x="1518.5" y="6664" width="151" height="48"/><text class="t" x="1594" y="6696">base:Verified</text></g>
<g id="n_dateTime"><rect class="n" x="2517" y="3729" width="152" height="48"/><text class="t" x="2593" y="3761">xsd:dateTime</text></g>
<g id="n_Ratings"><rect class="n" x="2521" y="6410" width="144" height="48"/><text class="t" x="2593" y="6442">base:Ratings</text></g>
<g id="n_Author"><rect class="n" x="2523.5" y="6550" width="139" height="48"/><text class="t" x="2593" y="6582">base:Author</text></g>
<g id="n_decimal"><rect class="n" x="2524" y="6622" width="138" height="48"/><text class="t" x="2593" y="6654">xsd:decimal</text></g>
<g id="n_boolean"><rect class="n" x="2524" y="6694" width="138" height="48"/><text class="t" x="2593" y="6726">xsd:boolean</text></g>
<g id="n_AircraftDetails"><rect class="n" x="2486" y="6766" width="214" height="48"/><text class="t" x="2593" y="6798">base:AircraftDetails</text></g>
<g id="n_Thing"><rect class="n" x="2534" y="6898" width="118" height="48"/><text class="t" x="2593" y="6930">owl:Thing</text></g>
<g id="n_string"><rect class="n" x="3056.5" y="6498" width="119" height="48"/><text class="t" x="3116" y="6530">xsd:string</text></g>
<g id="n_SeatDetails"><rect class="n" x="3026" y="6698" width="180" height="48"/><text class="t" x="3116" y="6730">base:SeatDetails</text></g>
<g id="n_FlightDetails"><rect class="n" x="3018" y="6770" width="196" height="48"/><text class="t" x="3116" y="6802">base:FlightDetails</text></g>
<g id="n_Recommendation"><rect class="n" x="2996.5" y="6856" width="239" height="48"/><text class="t" x="3116" y="6888">base:Recommendation</text></g>
<g id="n_Amenities"><rect class="n" x="3031.5" y="6928" width="169" height="48"/><text class="t" x="3116" y="6960">base:Amenities</text></g>
<g id="n_ServiceRatings"><rect class="n" x="3008.5" y="7000" width="215" height="48"/><text class="t" x="3116" y="7032">base:ServiceRatings</text></g>
<g id="n_integer"><rect class="n" x="3475" y="6698" width="130" height="48"/><text class="t" x="3540" y="6730">xsd:integer</text></g>
</g>
</g>
</svg>
